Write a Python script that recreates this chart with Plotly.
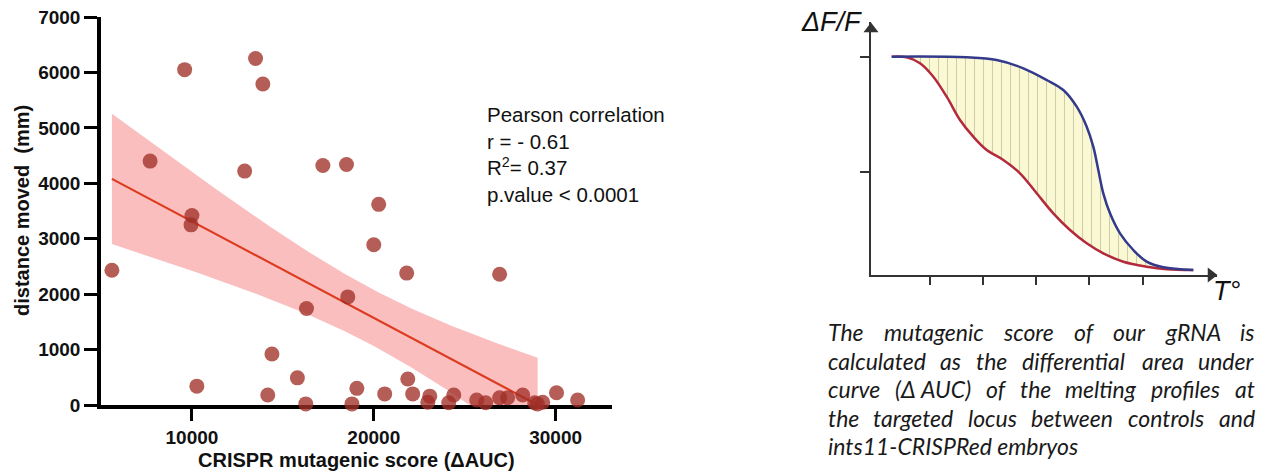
import numpy as np
import plotly.graph_objects as go

W, H = 1272, 473

# ---------------- data: scatter (left panel) ----------------
score = [5600, 7700, 9600, 10000, 9950, 10270, 12900, 13500, 13900, 14170,
         14400, 15800, 16300, 16260, 17200, 18500, 18570, 18800, 19070, 20000,
         20270, 20600, 21810, 21870, 22140, 23080, 22970, 24400, 24120, 25660,
         26150, 26920, 26920, 27360, 28190, 28850, 29290, 29000, 30050, 31210]
distance = [2430, 4400, 6050, 3420, 3250, 340, 4220, 6250, 5790, 180,
            920, 490, 1740, 20, 4320, 4340, 1950, 20, 300, 2890,
            3620, 200, 2380, 470, 200, 160, 50, 180, 40, 90,
            40, 2360, 130, 130, 180, 40, 50, 20, 220, 90]

x_ticks = [10000, 20000, 30000]
y_ticks = [0, 1000, 2000, 3000, 4000, 5000, 6000, 7000]

stats_text = ["Pearson correlation", "r = - 0.61", "R<sup>2</sup>= 0.37", "p.value &lt; 0.0001"]

# ---------------- data: melting profile schematic (right panel) ----------------
temp_control = [20.7, 95.7, 125.7, 152.3, 175.7, 192.3, 205.7, 215.7, 222.3, 227.3,
                232.3, 239, 249, 262.3, 275.7, 292.3, 322.3]
fluor_control = [218.3, 217.7, 215, 206.7, 195, 185, 168.3, 148.3, 128.3, 105,
                 81.7, 61.7, 41.7, 25, 13.3, 7.7, 5]
temp_crispr = [20.7, 35.7, 49, 62.3, 75.7, 89, 102.3, 115.7, 132.3, 149,
               165.7, 182.3, 199, 215.7, 232.3, 252.3, 275.7, 295.7, 322.3]
fluor_crispr = [218.3, 217.7, 211.7, 198.3, 178.3, 155, 138.3, 125, 115, 101.7,
                81.7, 61.7, 45, 31.7, 21.7, 13.3, 8.3, 5.7, 5]
temp_ticks = [59, 112, 165, 218, 272]
fluor_ticks = [103, 218]

caption_words = [
    ["The", "mutagenic", "score", "of", "our", "gRNA", "is"],
    ["calculated", "as", "the", "differential", "area", "under"],
    ["curve", "(Δ AUC)", "of", "the", "melting", "profiles", "at"],
    ["the", "targeted", "locus", "between", "controls", "and"],
    ["ints11-CRISPRed embryos"],
]
caption_justified = [True, True, True, True, False]

# ---------------- regression from data ----------------
x = np.array(score, dtype=float)
y = np.array(distance, dtype=float)
n = len(x)
a, b = np.polyfit(x, y, 1)
resid = y - (a * x + b)
s = np.sqrt((resid ** 2).sum() / (n - 2))
t_crit = 2.024
x_end = -b / a
xf = np.linspace(x.min(), x_end, 150)
yf = a * xf + b
se = s * np.sqrt(1.0 / n + (xf - x.mean()) ** 2 / ((x - x.mean()) ** 2).sum())
upper = yf + t_crit * se
lower = yf - t_crit * se


def pxx(v):
    return v / W


def pyy(v):
    return 1 - v / H


fig = go.Figure()

# band
fig.add_trace(go.Scatter(x=xf, y=lower, mode="lines", line=dict(width=0, color="rgba(0,0,0,0)"),
                         showlegend=False, hoverinfo="skip", xaxis="x", yaxis="y"))
fig.add_trace(go.Scatter(x=xf, y=upper, mode="lines", line=dict(width=0, color="rgba(0,0,0,0)"),
                         fill="tonexty", fillcolor="rgba(246,125,125,0.5)",
                         showlegend=False, hoverinfo="skip", xaxis="x", yaxis="y"))
fig.add_trace(go.Scatter(x=xf, y=yf, mode="lines", line=dict(width=2.2, color="#dc3b1f"),
                         showlegend=False, xaxis="x", yaxis="y"))
fig.add_trace(go.Scatter(x=score, y=distance, mode="markers",
                         marker=dict(size=15, color="rgba(160,48,40,0.78)", line=dict(width=0)),
                         cliponaxis=False, showlegend=False, xaxis="x", yaxis="y"))

# melting profiles
fig.add_trace(go.Scatter(x=temp_crispr, y=fluor_crispr, mode="lines",
                         line=dict(width=0, shape="spline", smoothing=1, color="rgba(0,0,0,0)"),
                         showlegend=False, hoverinfo="skip", xaxis="x2", yaxis="y2"))
fig.add_trace(go.Scatter(x=temp_control, y=fluor_control, mode="lines",
                         line=dict(width=0, shape="spline", smoothing=1, color="rgba(0,0,0,0)"),
                         fill="tonexty", fillcolor="#fbf9d4",
                         fillpattern=dict(shape="|", fgcolor="#a4a47c", bgcolor="#fbf9d4",
                                          size=9, solidity=0.12),
                         showlegend=False, hoverinfo="skip", xaxis="x2", yaxis="y2"))
fig.add_trace(go.Scatter(x=temp_crispr, y=fluor_crispr, mode="lines",
                         line=dict(width=2.5, shape="spline", smoothing=1, color="#b32a3c"),
                         showlegend=False, xaxis="x2", yaxis="y2"))
fig.add_trace(go.Scatter(x=temp_control, y=fluor_control, mode="lines",
                         line=dict(width=2.5, shape="spline", smoothing=1, color="#333a8c"),
                         showlegend=False, xaxis="x2", yaxis="y2"))
# arrowheads of the schematic axes
fig.add_trace(go.Scatter(x=[0, 340], y=[246, 0], mode="markers",
                         marker=dict(symbol=["triangle-up", "triangle-right"], size=13, color="#333"),
                         cliponaxis=False, showlegend=False, hoverinfo="skip", xaxis="x2", yaxis="y2"))

bold_font = dict(family="Liberation Sans, Arial, sans-serif", size=19, color="#111", weight="bold")

fig.update_layout(
    width=W, height=H,
    margin=dict(l=0, r=0, t=0, b=0, autoexpand=False),
    paper_bgcolor="white", plot_bgcolor="white",
    showlegend=False,
    xaxis=dict(domain=[pxx(101), pxx(612)], range=[5000, 33100], automargin=False,
               showgrid=False, zeroline=False, showline=True, linecolor="black", linewidth=3.5,
               ticks="outside", ticklen=12, tickwidth=3, tickcolor="black",
               tickvals=x_ticks, ticktext=[str(v) for v in x_ticks],
               tickfont=bold_font, layer="below traces", anchor="y"),
    yaxis=dict(domain=[1 - 405 / H, 1 - 17 / H], range=[0, 7000], automargin=False,
               showgrid=False, zeroline=False, showline=True, linecolor="black", linewidth=3.5,
               ticks="outside", ticklen=13, tickwidth=3, tickcolor="black",
               tickvals=y_ticks, ticktext=[str(v) for v in y_ticks],
               tickfont=bold_font, layer="below traces", anchor="x"),
    xaxis2=dict(domain=[pxx(871), pxx(1217)], range=[0, 346], automargin=False,
                showgrid=False, zeroline=False, showline=True, linecolor="#333", linewidth=2.2,
                ticks="outside", ticklen=8, tickwidth=2, tickcolor="#333",
                tickvals=temp_ticks, showticklabels=False, anchor="y2"),
    yaxis2=dict(domain=[1 - 275 / H, 1 - 22 / H], range=[0, 253], automargin=False,
                showgrid=False, zeroline=False, showline=True, linecolor="#333", linewidth=2.2,
                ticks="outside", ticklen=9, tickwidth=2, tickcolor="#333",
                tickvals=fluor_ticks, showticklabels=False, anchor="x2"),
)

ann = []
# axis titles (left)
ann.append(dict(text="distance moved  (mm)", xref="paper", yref="paper", x=pxx(22), y=pyy(211),
                showarrow=False, textangle=-90, font=dict(bold_font, size=20),
                xanchor="center", yanchor="middle"))
ann.append(dict(text="CRISPR mutagenic score (ΔAUC)", xref="paper", yref="paper", x=pxx(356), y=pyy(460),
                showarrow=False, font=dict(bold_font, size=20), xanchor="center", yanchor="middle"))
# stats
ann.append(dict(text="<br>".join(stats_text), xref="paper", yref="paper", x=pxx(485), y=pyy(101),
                showarrow=False, align="left", xanchor="left", yanchor="top",
                font=dict(family="Liberation Sans, Arial, sans-serif", size=20.5, color="#111")))
# schematic labels
ann.append(dict(text="ΔF/F", xref="paper", yref="paper", x=pxx(864), y=pyy(22),
                showarrow=False, xanchor="right", yanchor="middle",
                font=dict(family="Liberation Sans, Arial, sans-serif", size=27, color="#111", style="italic")))
ann.append(dict(text="T°", xref="paper", yref="paper", x=pxx(1226), y=pyy(291),
                showarrow=False, xanchor="center", yanchor="middle",
                font=dict(family="Liberation Sans, Arial, sans-serif", size=27, color="#111", style="italic")))

# caption, justified between left and right edges (approximate Lato glyph widths, em units)
char_w = {
    'a': .51, 'b': .56, 'c': .46, 'd': .56, 'e': .52, 'f': .32, 'g': .50, 'h': .56, 'i': .24,
    'l': .24, 'm': .85, 'n': .56, 'o': .56, 'p': .56, 'r': .36, 's': .42, 't': .35, 'u': .56,
    'v': .49, 'w': .74, 'y': .49, 'A': .68, 'C': .66, 'I': .27, 'N': .76, 'P': .58, 'R': .61,
    'S': .51, 'T': .56, 'U': .72, 'Δ': .66, '(': .30, ')': .30, '1': .58, '-': .36, ' ': .19,
}
cap_size = 23
cap_left, cap_right = 828, 1255
cap_font = dict(family="Lato, Open Sans, sans-serif", size=cap_size, color="#1a1a1a", style="italic")


def word_width(w):
    return sum(char_w.get(c, .5) for c in w) * cap_size * 0.955


for i, (words, just) in enumerate(zip(caption_words, caption_justified)):
    yline = 332 + i * 28.5
    widths = [word_width(w) for w in words]
    if just and len(words) > 1:
        gap = (cap_right - cap_left - sum(widths)) / (len(words) - 1)
    else:
        gap = 0
    xpos = cap_left
    for j, (w, wd) in enumerate(zip(words, widths)):
        if just and j == len(words) - 1:
            ann.append(dict(text=w, xref="paper", yref="paper", x=pxx(cap_right + 2), y=pyy(yline),
                            showarrow=False, xanchor="right", yanchor="middle", font=cap_font))
        else:
            ann.append(dict(text=w, xref="paper", yref="paper", x=pxx(xpos - 2), y=pyy(yline),
                            showarrow=False, xanchor="left", yanchor="middle", font=cap_font))
        xpos += wd + gap

fig.update_layout(annotations=ann)
fig.write_html("out.html", config={"displayModeBar": False},
               post_script="document.body.style.margin='0px';document.body.style.padding='0px';")
